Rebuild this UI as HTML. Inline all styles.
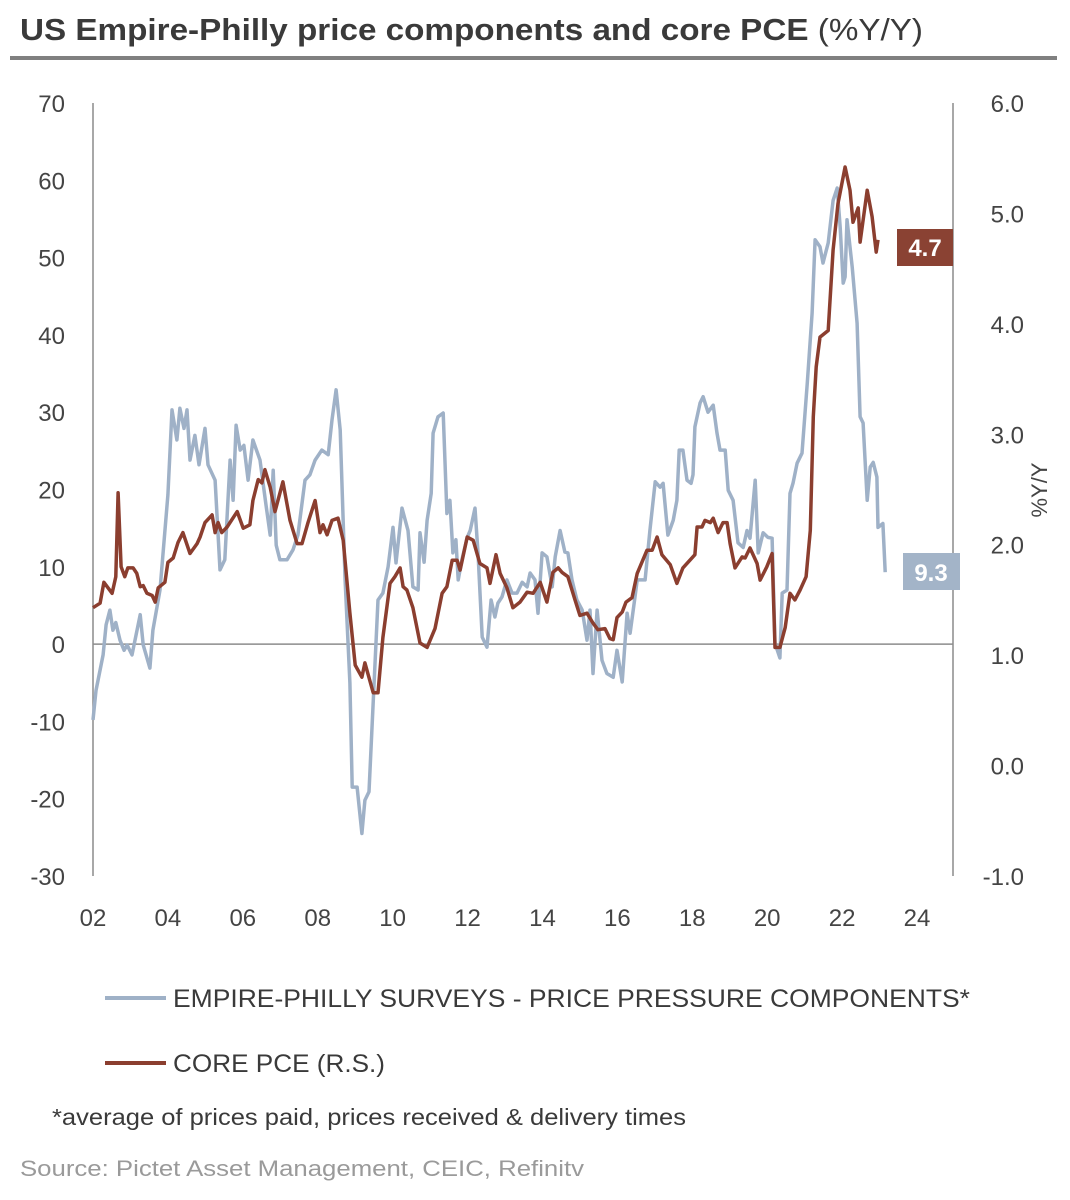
<!DOCTYPE html>
<html><head><meta charset="utf-8"><style>
html,body{margin:0;padding:0;background:#fff}
svg{display:block;font-family:"Liberation Sans",sans-serif}
</style></head><body>
<svg id="chart" width="1070" height="1200" viewBox="0 0 1070 1200" xmlns="http://www.w3.org/2000/svg">
<text x="20" y="40" font-size="31" fill="#3a3a3a" textLength="903" lengthAdjust="spacingAndGlyphs"><tspan font-weight="bold">US Empire-Philly price components and core PCE</tspan> (%Y/Y)</text>
<rect x="10" y="56" width="1047" height="4" fill="#808080"/>
<g id="axes"></g>
<g id="series"></g>
<text transform="translate(1047,490) rotate(-90)" text-anchor="middle" font-size="22" fill="#444">%Y/Y</text>
<rect x="897" y="229" width="56" height="37" fill="#8a4233"/>
<text x="925" y="256" text-anchor="middle" font-size="24" font-weight="bold" fill="#fff">4.7</text>
<rect x="903" y="553" width="57" height="37" fill="#a3b4c8"/>
<text x="931" y="581" text-anchor="middle" font-size="24" font-weight="bold" fill="#fff">9.3</text>
<g>
<line x1="105" y1="998" x2="166" y2="998" stroke="#9fb1c7" stroke-width="4"/>
<text x="173" y="1007" font-size="25" fill="#3a3a3a" textLength="797" lengthAdjust="spacingAndGlyphs">EMPIRE-PHILLY SURVEYS - PRICE PRESSURE COMPONENTS*</text>
<line x1="105" y1="1063" x2="166" y2="1063" stroke="#8b3e2f" stroke-width="4"/>
<text x="173" y="1072" font-size="25" fill="#3a3a3a" textLength="212" lengthAdjust="spacingAndGlyphs">CORE PCE (R.S.)</text>
</g>
<text x="52" y="1125" font-size="23" fill="#3a3a3a" textLength="634" lengthAdjust="spacingAndGlyphs">*average of prices paid, prices received &amp; delivery times</text>
<text x="20" y="1176" font-size="22" fill="#9a9a9a" textLength="564" lengthAdjust="spacingAndGlyphs">Source: Pictet Asset Management, CEIC, Refinitv</text>
</svg>
<script>
const xTicks = ["02","04","06","08","10","12","14","16","18","20","22","24"];
const xTickYears = [2002,2004,2006,2008,2010,2012,2014,2016,2018,2020,2022,2024];
const leftTicks = [70,60,50,40,30,20,10,0,-10,-20,-30];
const rightTicks = ["6.0","5.0","4.0","3.0","2.0","1.0","0.0","-1.0"];
const empireDates = [2002.00,2002.08,2002.27,2002.35,2002.45,2002.53,2002.61,2002.72,2002.83,2002.91,2003.04,2003.26,2003.34,2003.52,2003.60,2003.79,2004.00,2004.11,2004.24,2004.32,2004.43,2004.51,2004.59,2004.72,2004.83,2004.99,2005.07,2005.26,2005.39,2005.52,2005.66,2005.74,2005.82,2005.93,2006.03,2006.14,2006.27,2006.46,2006.62,2006.73,2006.81,2006.89,2006.99,2007.18,2007.34,2007.47,2007.66,2007.79,2007.93,2008.11,2008.28,2008.38,2008.49,2008.60,2008.73,2008.86,2008.92,2009.05,2009.18,2009.26,2009.37,2009.61,2009.74,2009.88,2010.01,2010.09,2010.25,2010.41,2010.54,2010.68,2010.73,2010.84,2010.92,2011.03,2011.08,2011.21,2011.35,2011.45,2011.53,2011.61,2011.69,2011.75,2011.85,2011.99,2012.07,2012.20,2012.28,2012.39,2012.52,2012.63,2012.73,2012.81,2012.92,2013.05,2013.19,2013.32,2013.46,2013.59,2013.67,2013.80,2013.88,2013.99,2014.12,2014.26,2014.34,2014.47,2014.60,2014.68,2014.79,2014.92,2015.06,2015.19,2015.27,2015.35,2015.46,2015.59,2015.72,2015.89,2015.99,2016.13,2016.26,2016.34,2016.47,2016.53,2016.74,2016.87,2017.01,2017.14,2017.22,2017.35,2017.49,2017.59,2017.65,2017.75,2017.86,2017.97,2018.02,2018.07,2018.21,2018.29,2018.42,2018.56,2018.66,2018.74,2018.88,2018.96,2019.09,2019.22,2019.36,2019.46,2019.54,2019.68,2019.76,2019.89,2020.02,2020.13,2020.21,2020.34,2020.40,2020.53,2020.61,2020.69,2020.80,2020.93,2021.07,2021.20,2021.28,2021.41,2021.49,2021.63,2021.76,2021.87,2021.95,2022.03,2022.08,2022.13,2022.27,2022.40,2022.48,2022.56,2022.67,2022.75,2022.83,2022.93,2022.96,2023.09,2023.15];
const empireValues = [-9.8,-6.0,-1.4,2.5,4.4,1.8,2.8,0.5,-0.8,-0.1,-1.4,3.8,-0.1,-3.1,1.8,7.0,19.3,30.3,26.4,30.5,27.9,30.3,23.8,27.0,23.2,27.9,23.2,21.2,9.6,10.9,23.8,18.6,28.3,25.1,25.7,21.2,26.4,23.8,18.0,14.1,22.5,12.8,10.9,10.9,12.2,14.1,21.2,21.9,23.8,25.1,24.5,29.0,32.9,27.7,8.3,-5.0,-18.5,-18.5,-24.5,-20.2,-19.1,5.7,6.6,10.0,15.1,10.5,17.6,14.7,7.4,7.0,14.4,10.6,16.0,19.5,27.3,29.4,29.9,16.9,18.6,11.8,13.5,8.3,10.9,13.8,14.7,17.6,11.8,0.9,-0.4,5.7,3.5,5.3,6.1,8.3,6.6,6.6,8.0,7.4,9.2,8.3,4.0,11.8,11.3,7.4,11.3,14.7,11.9,11.8,8.3,5.7,4.4,0.5,4.4,-3.8,4.4,-2.1,-3.8,-4.3,-0.8,-4.9,4.0,1.4,6.1,8.3,8.3,14.7,21.0,20.3,20.8,14.1,16.0,18.6,25.1,25.1,21.2,20.8,21.9,28.1,31.2,32.0,30.0,30.9,27.3,25.1,25.1,19.9,18.6,13.1,12.5,14.7,13.7,21.2,11.8,14.4,13.8,13.7,0.1,-1.8,6.6,7.0,19.5,20.8,23.4,24.7,33.8,42.8,52.3,51.4,49.3,51.9,57.4,59.0,53.9,46.7,47.5,54.9,48.8,41.5,29.4,28.6,18.6,22.9,23.5,21.6,15.1,15.6,9.3];
const pceDates = [2002.00,2002.19,2002.29,2002.51,2002.61,2002.67,2002.75,2002.85,2002.93,2003.07,2003.17,2003.26,2003.34,2003.44,2003.58,2003.66,2003.74,2003.92,2004.00,2004.14,2004.27,2004.40,2004.59,2004.78,2004.86,2004.99,2005.18,2005.26,2005.34,2005.44,2005.58,2005.85,2006.01,2006.19,2006.27,2006.41,2006.51,2006.59,2006.73,2006.86,2007.07,2007.26,2007.45,2007.58,2007.74,2007.93,2008.06,2008.14,2008.25,2008.38,2008.54,2008.68,2008.86,2009.00,2009.18,2009.26,2009.48,2009.61,2009.74,2009.93,2010.06,2010.20,2010.28,2010.38,2010.54,2010.73,2010.92,2011.13,2011.32,2011.45,2011.59,2011.72,2011.80,2011.99,2012.15,2012.33,2012.52,2012.60,2012.76,2012.87,2013.05,2013.21,2013.40,2013.59,2013.75,2013.94,2014.12,2014.28,2014.42,2014.52,2014.68,2014.87,2015.00,2015.19,2015.35,2015.48,2015.67,2015.80,2015.89,2015.99,2016.13,2016.23,2016.39,2016.53,2016.79,2016.93,2017.06,2017.19,2017.41,2017.59,2017.75,2018.07,2018.13,2018.26,2018.34,2018.48,2018.56,2018.69,2018.82,2018.93,2019.01,2019.14,2019.33,2019.41,2019.54,2019.73,2019.81,2019.99,2020.13,2020.21,2020.34,2020.48,2020.61,2020.74,2020.88,2021.04,2021.15,2021.23,2021.31,2021.41,2021.63,2021.76,2021.89,2022.08,2022.21,2022.29,2022.43,2022.48,2022.67,2022.80,2022.91,2022.96];
const pceValues = [1.43,1.47,1.66,1.56,1.71,2.47,1.80,1.71,1.79,1.79,1.74,1.62,1.63,1.56,1.54,1.48,1.61,1.66,1.84,1.88,2.02,2.11,1.92,2.01,2.07,2.20,2.27,2.11,2.20,2.11,2.16,2.30,2.15,2.18,2.40,2.59,2.56,2.68,2.52,2.30,2.57,2.22,2.01,2.01,2.20,2.40,2.11,2.18,2.09,2.22,2.24,2.04,1.38,0.91,0.80,0.93,0.66,0.66,1.16,1.65,1.71,1.79,1.62,1.59,1.43,1.11,1.07,1.24,1.56,1.62,1.86,1.86,1.77,2.07,2.04,1.83,1.79,1.65,1.91,1.74,1.61,1.43,1.48,1.57,1.56,1.66,1.48,1.75,1.79,1.75,1.71,1.50,1.36,1.38,1.29,1.23,1.24,1.15,1.14,1.34,1.39,1.48,1.52,1.74,1.95,1.95,2.07,1.91,1.82,1.65,1.79,1.91,2.16,2.16,2.22,2.20,2.24,2.11,2.20,2.20,2.01,1.79,1.89,1.88,1.97,1.83,1.68,1.80,1.92,1.07,1.07,1.25,1.56,1.50,1.59,1.71,2.13,3.16,3.61,3.88,3.94,4.67,5.09,5.42,5.21,4.92,5.05,4.74,5.21,4.97,4.65,4.76];

const NS = "http://www.w3.org/2000/svg";
const X0 = 93, X1 = 953, TOP = 103, BOT = 876;
function xScale(yr){ return X0 + (yr - 2002) * (917 - 93) / 22; }
function yLeft(v){ return TOP + (70 - v) * (BOT - TOP) / 100; }
function yRight(v){ return TOP + (6 - v) * (BOT - TOP) / 7; }
function mk(tag, attrs){ const e = document.createElementNS(NS, tag); for (const k in attrs) e.setAttribute(k, attrs[k]); return e; }
const axes = document.getElementById('axes');
const series = document.getElementById('series');

let l = mk('line', {x1:X0, y1:TOP, x2:X0, y2:BOT, stroke:'#8c8c8c', 'stroke-width':1.5});


axes.appendChild(l);
l = mk('line', {x1:X1, y1:TOP, x2:X1, y2:BOT, stroke:'#8c8c8c', 'stroke-width':1.5});


axes.appendChild(l);
l = mk('line', {x1:X0, y1:yLeft(0), x2:X1, y2:yLeft(0), stroke:'#8c8c8c', 'stroke-width':1.5});


axes.appendChild(l);

leftTicks.forEach(v => {
  const t = mk('text', {x:65, y:yLeft(v)+9, 'text-anchor':'end', 'font-size':24, fill:'#444'});
  t.textContent = String(v);
  
  
  axes.appendChild(t);
});
rightTicks.forEach(s => {
  const t = mk('text', {x:1024, y:yRight(parseFloat(s))+9, 'text-anchor':'end', 'font-size':24, fill:'#444'});
  t.textContent = s;
  
  
  axes.appendChild(t);
});
xTicks.forEach((s, i) => {
  const t = mk('text', {x:xScale(xTickYears[i]), y:926, 'text-anchor':'middle', 'font-size':24, fill:'#444'});
  t.textContent = s;
  
  
  axes.appendChild(t);
});

const pe = mk('polyline', {points: empireDates.map((d,i)=>xScale(d).toFixed(1)+','+yLeft(empireValues[i]).toFixed(1)).join(' '), fill:'none', stroke:'#9fb1c7', 'stroke-width':3.5, 'stroke-linejoin':'round'});


series.appendChild(pe);
const pp = mk('polyline', {points: pceDates.map((d,i)=>xScale(d).toFixed(1)+','+yRight(pceValues[i]).toFixed(1)).join(' '), fill:'none', stroke:'#8b3e2f', 'stroke-width':3.5, 'stroke-linejoin':'round'});


series.appendChild(pp);
</script>
</body></html>
